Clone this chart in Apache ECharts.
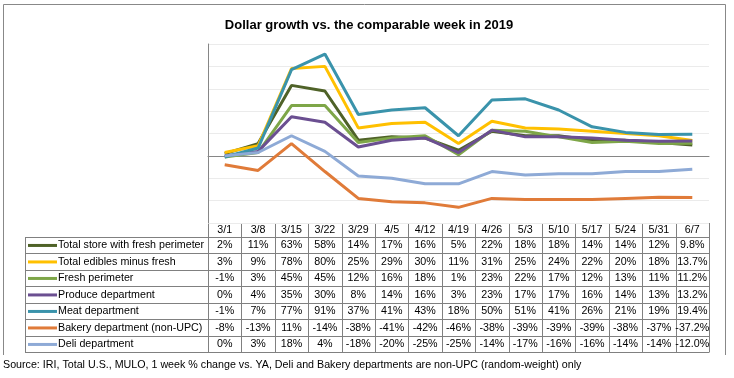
<!DOCTYPE html>
<html><head><meta charset="utf-8">
<script src="https://cdn.jsdelivr.net/npm/echarts@6/dist/echarts.min.js"></script>
<style>html,body{margin:0;padding:0;background:#fff}#c{width:734px;height:378px}</style>
</head><body><div id="c"></div>
<script>
var categories = ['3/1','3/8','3/15','3/22','3/29','4/5','4/12','4/19','4/26','5/3','5/10','5/17','5/24','5/31','6/7'];
var totalStore = [2,11,63,58,14,17,16,5,22,18,18,14,14,12,9.8];
var totalEdibles = [3,9,78,80,25,29,30,11,31,25,24,22,20,18,13.7];
var freshPerimeter = [-1,3,45,45,12,16,18,1,23,22,17,12,13,11,11.2];
var produce = [0,4,35,30,8,14,16,3,23,17,17,16,14,13,13.2];
var meat = [-1,7,77,91,37,41,43,18,50,51,41,26,21,19,19.4];
var bakery = [-8,-13,11,-14,-38,-41,-42,-46,-38,-39,-39,-39,-38,-37,-37.2];
var deli = [0,3,18,4,-18,-20,-25,-25,-14,-17,-16,-16,-14,-14,-12.0];
var seriesNames = ['Total store with fresh perimeter','Total edibles minus fresh','Fresh perimeter','Produce department','Meat department','Bakery department (non-UPC)','Deli department'];
var seriesData = [totalStore,totalEdibles,freshPerimeter,produce,meat,bakery,deli];
var colors = ['#4f6228','#ffc000','#7ea648','#6b4f91','#3a93ab','#e07b39','#8eaad6'];
var yTicks = {min:-60,max:100,interval:20};

var chart = echarts.init(document.getElementById('c'), null, {renderer:'canvas'});
var G = {left:208, top:44, width:501, height:179};
var rowH = 16.5, headH = 13.7, labelLeft = 25;
var font = 'Liberation Sans, Arial, sans-serif';
var tf = '10.7px ' + font;

function fmt(v, i){ return (i === categories.length-1 ? v.toFixed(1) : String(Math.round(v))) + '%'; }

var graphics = [];
var line = '#808080';
graphics.push({type:'polyline', shape:{points:[[3.5,355],[3.5,4.5],[725.5,4.5],[725.5,355]]}, style:{stroke:'#888', lineWidth:1, fill:null}, silent:true});
var colW = G.width / categories.length;
var tTop = G.top + G.height;
var rTop = tTop + headH;
var tBottom = rTop + rowH * seriesNames.length;
var right = G.left + G.width;
graphics.push({type:'line', shape:{x1:G.left, y1:tTop+0.5, x2:right, y2:tTop+0.5}, style:{stroke:line, lineWidth:1}});
for (var k=0;k<=seriesNames.length;k++){
  var y = Math.round(rTop + rowH*k)+0.5;
  graphics.push({type:'line', shape:{x1:labelLeft, y1:y, x2:right, y2:y}, style:{stroke:line, lineWidth:1}});
}
graphics.push({type:'line', shape:{x1:labelLeft+0.5, y1:Math.round(rTop)+0.5, x2:labelLeft+0.5, y2:Math.round(tBottom)+0.5}, style:{stroke:line, lineWidth:1}});
for (var j=0;j<=categories.length;j++){
  var x = Math.round(G.left + colW*j)+0.5;
  graphics.push({type:'line', shape:{x1:x, y1:tTop, x2:x, y2:Math.round(tBottom)+0.5}, style:{stroke:line, lineWidth:1}});
}
categories.forEach(function(c,j){
  graphics.push({type:'text', x:G.left+colW*(j+0.5), y:tTop+headH/2+0.5, style:{text:c, font:tf, fill:'#000', align:'center', verticalAlign:'middle'}});
});
seriesNames.forEach(function(n,i){
  var cy = rTop + rowH*(i+0.5) + 0.5;
  graphics.push({type:'line', shape:{x1:28, y1:cy, x2:57, y2:cy}, style:{stroke:colors[i], lineWidth:3}});
  graphics.push({type:'text', x:58, y:cy, style:{text:n, font:tf, fill:'#000', align:'left', verticalAlign:'middle'}});
  seriesData[i].forEach(function(v,j){
    graphics.push({type:'text', x:G.left+colW*(j+0.5), y:cy, style:{text:fmt(v,j), font:tf, fill:'#000', align:'center', verticalAlign:'middle'}});
  });
});
graphics.push({type:'text', x:3, y:365, style:{text:'Source: IRI, Total U.S., MULO, 1 week % change vs. YA, Deli and Bakery departments are non-UPC (random-weight) only', font:'10.7px '+font, fill:'#000', align:'left', verticalAlign:'middle'}});

chart.setOption({
  animation:false,
  backgroundColor:'#fff',
  title:{text:'Dollar growth vs. the comparable week in 2019', left:364, top:14, textAlign:'center',
    textStyle:{fontFamily:font, fontSize:13, fontWeight:'bold', color:'#000'}},
  grid:{left:G.left, top:G.top, width:G.width, height:G.height, containLabel:false},
  xAxis:{type:'category', data:categories, boundaryGap:true,
    axisLine:{onZero:true, lineStyle:{color:'#868686', width:1}},
    axisTick:{show:false}, axisLabel:{show:false}, splitLine:{show:false}},
  yAxis:{type:'value', min:yTicks.min, max:yTicks.max, interval:yTicks.interval,
    axisLine:{show:true, lineStyle:{color:'#868686'}}, axisTick:{show:false}, axisLabel:{show:false},
    splitLine:{show:true, lineStyle:{color:'#ebebeb', width:1}}},
  series: seriesNames.map(function(n,i){
    return {name:n, type:'line', data:seriesData[i], symbol:'none', smooth:false,
      lineStyle:{color:colors[i], width:3}, itemStyle:{color:colors[i]}, z:2+i};
  }),
  graphic:graphics
});
</script></body></html>
